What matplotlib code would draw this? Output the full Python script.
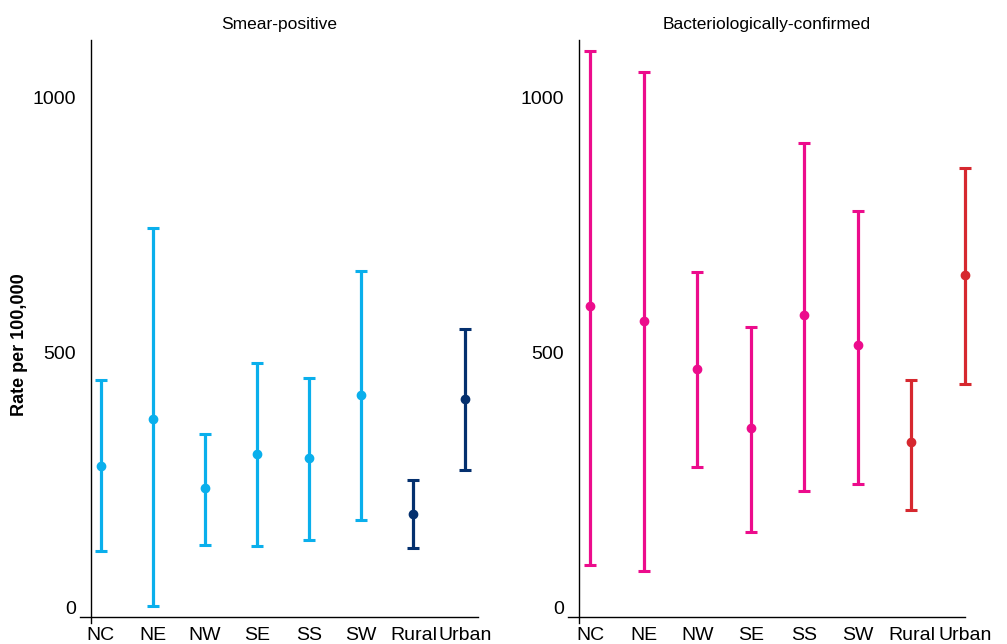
import matplotlib
matplotlib.use("Agg")
import matplotlib.pyplot as plt
from matplotlib import font_manager

categories = ["NC", "NE", "NW", "SE", "SS", "SW", "Rural", "Urban"]

smear_est = [276, 369, 233, 300, 292, 416, 182, 408]
smear_low = [110, 2, 122, 120, 131, 171, 116, 269]
smear_high = [445, 743, 339, 478, 449, 659, 249, 545]

bact_est = [590, 561, 467, 351, 573, 514, 324, 651]
bact_low = [82, 71, 275, 147, 227, 241, 190, 437]
bact_high = [1090, 1049, 657, 549, 910, 776, 445, 861]

titles = ["Smear-positive", "Bacteriologically-confirmed"]
yticks = [0, 500, 1000]
ylabel = "Rate per 100,000"

smear_colors = ["#0AAFEC"] * 6 + ["#04306E"] * 2
bact_colors = ["#EC0C8C"] * 6 + ["#D6282F"] * 2

names = {f.name for f in font_manager.fontManager.ttflist}
narrow = "Liberation Sans Narrow" in names
fam = "Liberation Sans Narrow" if narrow else "Liberation Sans"
plt.rcParams["font.family"] = [fam, "DejaVu Sans"]
tick_fs = 15.5 if narrow else 14
title_fs = 14 if narrow else 12.5
label_fs = 15 if narrow else 13

fig = plt.figure(figsize=(10.07, 6.44), dpi=100)
W, H = 1007, 644

panels = [
    dict(left=80, right=478, xlim=(-0.40, 7.24), yaxis=-0.19,
         est=smear_est, low=smear_low, high=smear_high, colors=smear_colors, title=titles[0]),
    dict(left=568, right=965, xlim=(-0.42, 6.88), yaxis=-0.22,
         est=bact_est, low=bact_low, high=bact_high, colors=bact_colors, title=titles[1]),
]

top_px, bot_px = 40, 617
for p in panels:
    ax = fig.add_axes([p["left"] / W, 1 - bot_px / H, (p["right"] - p["left"]) / W, (bot_px - top_px) / H])
    x = list(range(len(categories)))
    for i in x:
        e = p["est"][i]
        ax.errorbar([i], [e], yerr=[[e - p["low"][i]], [p["high"][i] - e]],
                    fmt="o", color=p["colors"][i], ecolor=p["colors"][i],
                    markersize=6, elinewidth=2.3, capsize=4.5, capthick=2.2,
                    clip_on=False, zorder=3)
    ax.set_xlim(*p["xlim"])
    ax.set_ylim(-19.6, 1112)
    ax.set_xticks(x)
    ax.set_xticklabels(categories, fontsize=tick_fs)
    ax.set_yticks(yticks)
    ax.set_yticklabels([str(t) for t in yticks], fontsize=tick_fs)
    ax.tick_params(axis="both", length=0)
    ax.tick_params(axis="y", pad=3)
    ax.tick_params(axis="x", pad=7)
    for s in ["top", "right", "left"]:
        ax.spines[s].set_visible(False)
    ax.spines["bottom"].set_linewidth(1.0)
    ax.axvline(p["yaxis"], ymin=-0.01, ymax=1.0, color="black", lw=1.0, clip_on=False)
    ax.set_title(p["title"], fontsize=title_fs, pad=8)

fig.text(20 / W, 1 - 345 / H, ylabel, rotation=90, fontsize=label_fs, fontweight="bold",
         ha="center", va="center")

fig.savefig("out.png", dpi=100)
